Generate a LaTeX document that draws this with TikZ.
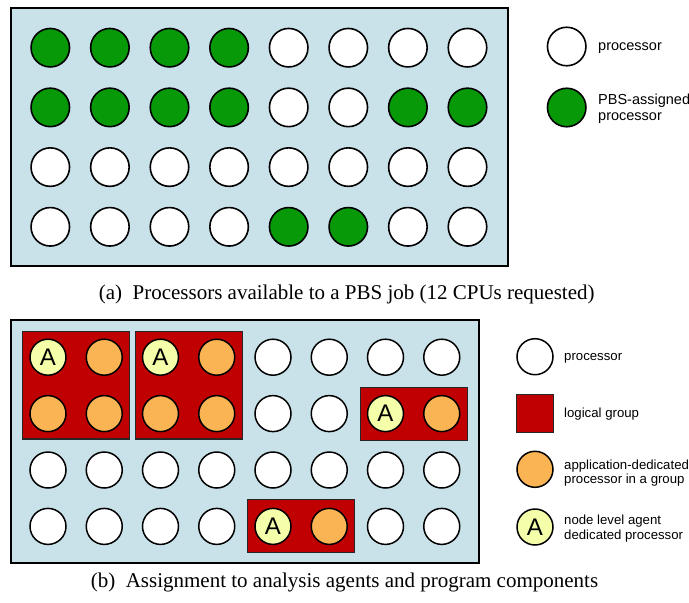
\documentclass[tikz,border=0pt]{standalone}
\usepackage{fontspec}
\setmainfont{Liberation Serif}
\newfontfamily\legfont{Liberation Sans}
\usetikzlibrary{calc}
\definecolor{panelblue}{RGB}{201,226,234}
\definecolor{pbsgreen}{RGB}{8,153,8}
\definecolor{grpred}{RGB}{192,0,0}
\definecolor{apporange}{RGB}{251,180,84}
\definecolor{agentyellow}{RGB}{245,254,168}
\newcommand\txtW{}
\newcommand\txtG{}
\newcommand\txtO{}
\newcommand\txtA{A}
\tikzset{
  panel/.style={draw=black, line width=2pt, fill=panelblue, inner sep=0pt},
  topcirc/.style={circle, draw=black, line width=1.6pt, minimum size=38.5pt, inner sep=0pt},
  botcirc/.style={circle, draw=black, line width=1.5pt, minimum size=36pt, inner sep=0pt,
                  font=\legfont\fontsize{24}{24}\selectfont},
  procW/.style={botcirc, fill=white},
  procO/.style={botcirc, fill=apporange},
  procA/.style={botcirc, fill=agentyellow},
  tprocW/.style={topcirc, fill=white},
  tprocG/.style={topcirc, fill=pbsgreen},
  grp/.style={draw=black!85, line width=1.1pt, fill=grpred},
  legtop/.style={font=\legfont\fontsize{14.5}{16}\selectfont, inner sep=0pt, align=left},
  legbot/.style={font=\legfont\fontsize{13.2}{14.2}\selectfont, inner sep=0pt, align=left},
  caption/.style={font=\fontsize{21}{24}\selectfont, inner sep=0pt}
}
\begin{document}
\begin{tikzpicture}[x=1pt,y=-1pt]
\useasboundingbox (0,0) rectangle (689,603);

% ---------- panel (a) ----------
\node[panel, minimum width=497pt, minimum height=258pt] (panelA) at (259.5,137) {};
\foreach \j/\row in {0/{G,G,G,G,W,W,W,W},1/{G,G,G,G,W,W,G,G},2/{W,W,W,W,W,W,W,W},3/{W,W,W,W,G,G,W,W}}{
  \foreach \t [count=\i from 0] in \row {
    \node[tprocW, tproc\t] (t-\i-\j) at ({50.3+59.6*\i},{47.7+59.7*\j}) {};
  }
}
\node[tprocW] (legA1) at (566.7,46.5) {};
\node[legtop, anchor=base west] (legA1t) at (598,50.5) {processor};
\node[tprocG] (legA2) at (566.7,107.5) {};
\node[legtop, anchor=base west] (legA2t) at (598,120) {PBS-assigned\\processor};
\node[caption, anchor=base] (capA) at (346.7,299) {(a)\ \ Processors available to a PBS job (12 CPUs requested)};

% ---------- panel (b) ----------
\node[panel, minimum width=468pt, minimum height=243pt] (panelB) at (245,441.5) {};
\foreach \i in {0,...,7}{
  \foreach \j in {0,...,3}{
    \coordinate (bc-\i-\j) at ({48+56.25*\i},{357.2+56.4*\j});
  }
}
\draw[grp] ($(bc-0-0)+(-25.4,-25.4)$) rectangle ($(bc-1-1)+(25.4,25.4)$);
\draw[grp] ($(bc-2-0)+(-25.4,-25.4)$) rectangle ($(bc-3-1)+(25.4,25.4)$);
\draw[grp] ($(bc-6-1)+(-25.4,-26.5)$) rectangle ($(bc-7-1)+(25.4,26.5)$);
\draw[grp] ($(bc-4-3)+(-25.4,-26.5)$) rectangle ($(bc-5-3)+(25.4,26.5)$);
\foreach \j/\row in {0/{A,O,A,O,W,W,W,W},1/{O,O,O,O,W,W,A,O},2/{W,W,W,W,W,W,W,W},3/{W,W,W,W,A,O,W,W}}{
  \foreach \t [count=\i from 0] in \row {
    \node[procW, proc\t] (b-\i-\j) at (bc-\i-\j) {\csname txt\t\endcsname};
  }
}
\node[procW] (legB1) at (535,356.7) {};
\node[legbot, anchor=base west] (legB1t) at (564,360.7) {processor};
\node[grp, minimum size=37.2pt, inner sep=0pt] (legB2) at (535,413.5) {};
\node[legbot, anchor=base west] (legB2t) at (564,417.7) {logical group};
\node[procO] (legB3) at (535,469.3) {};
\node[legbot, anchor=base west] (legB3t) at (564,483.5) {application-dedicated\\processor in a group};
\node[procA] (legB4) at (535,527) {A};
\node[legbot, anchor=base west] (legB4t) at (564,539) {node level agent\\dedicated processor};
\node[caption, anchor=base] (capB) at (344.5,587.3) {(b)\ \ Assignment to analysis agents and program components};
\end{tikzpicture}
\end{document}
